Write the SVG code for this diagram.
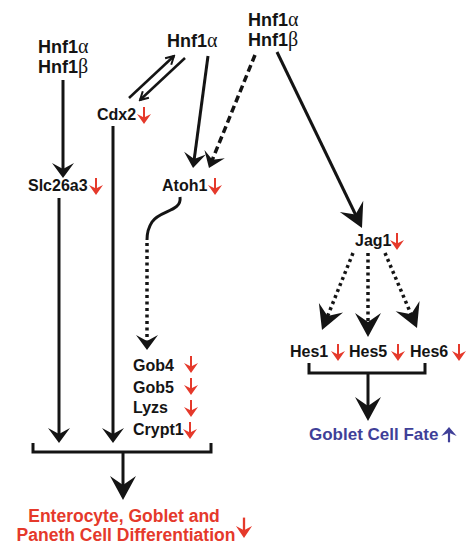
<svg xmlns="http://www.w3.org/2000/svg" xmlns:xlink="http://www.w3.org/1999/xlink" width="466" height="544" viewBox="0 0 466 544">
<style>
.t{font-family:"Liberation Sans",Arial,sans-serif;font-weight:bold;font-size:16px;fill:#141414}
.h{font-size:18px}
.g{font-family:"Liberation Serif","DejaVu Serif",serif;font-weight:normal;font-size:20px}
.red{fill:#e5392b}
.blue{fill:#3f3f98}
.ln{fill:none;stroke:#141414;stroke-width:3}
.dash{stroke-dasharray:7 4;stroke-width:3.5}
.dot{stroke-dasharray:3 3.5;stroke-width:3.5}
.thin{fill:none;stroke:#141414;stroke-width:2.5}
</style>
<defs>
<marker id="am" viewBox="-8 -12 18 24" markerWidth="18" markerHeight="24" markerUnits="userSpaceOnUse" refX="0" refY="0" orient="auto">
<path d="M8,0 L-7,-11 L-1,0 L-7,11 Z" fill="#141414"/>
</marker>
<marker id="ab" viewBox="-15 -14 28 28" markerWidth="28" markerHeight="28" markerUnits="userSpaceOnUse" refX="0" refY="0" orient="auto">
<path d="M11,0 L-13,-13 L-4,0 L-13,13 Z" fill="#141414"/>
</marker>
<marker id="av" viewBox="-9 -6 11 12" markerWidth="11" markerHeight="12" markerUnits="userSpaceOnUse" refX="0" refY="0" orient="auto">
<path d="M-8,-4.5 L0,0 L-8,4.5" fill="none" stroke="#141414" stroke-width="2"/>
</marker>
<g id="rd">
<path d="M0,-17 V-6" stroke="currentColor" stroke-width="2"/>
<path d="M-7,-10 L0,0 L7,-10 L0,-6.5 Z" fill="currentColor"/>
</g>
</defs>

<g id="connectors">
<line class="ln" x1="63" y1="80" x2="63" y2="170" marker-end="url(#am)"/>
<line class="ln" x1="59" y1="198" x2="59" y2="435" marker-end="url(#am)"/>
<line class="ln" x1="113" y1="126" x2="113" y2="435" marker-end="url(#am)"/>
<line class="ln" x1="208" y1="56" x2="194.1" y2="160.1" marker-end="url(#am)"/>
<line class="ln dash" x1="255" y1="55" x2="212" y2="160.6" marker-end="url(#am)"/>
<line class="ln" x1="277" y1="52" x2="357.2" y2="218" marker-end="url(#ab)"/>
<line class="thin" x1="129" y1="98" x2="174" y2="56" marker-end="url(#av)"/>
<line class="thin" x1="185" y1="58" x2="140" y2="100" marker-end="url(#av)"/>
<path class="ln" d="M180,197 C182,212 160,210 152,222 C148,228 147,232 147,240"/>
<line class="ln dot" x1="147" y1="243" x2="147" y2="342" marker-end="url(#am)"/>
<line class="ln dot" x1="353" y1="253" x2="326.1" y2="319.8" marker-end="url(#ab)"/>
<line class="ln dot" x1="368" y1="253" x2="368" y2="326" marker-end="url(#ab)"/>
<line class="ln dot" x1="385" y1="253" x2="412.7" y2="318" marker-end="url(#ab)"/>
<path class="ln" d="M33,443 V452 H211 V443"/>
<line class="ln" x1="123" y1="452" x2="123" y2="489" marker-end="url(#ab)"/>
<path class="ln" d="M309,363 V373 H425 V363"/>
<line class="ln" x1="368" y1="373" x2="368" y2="410" marker-end="url(#ab)"/>
</g>

<g id="hnf1-left">
<text class="t h" x="38" y="53">Hnf1<tspan class="g">α</tspan></text>
<text class="t h" x="38" y="73">Hnf1<tspan class="g">β</tspan></text>
</g>
<g id="hnf1a-mid">
<text class="t h" x="167" y="47">Hnf1<tspan class="g">α</tspan></text>
</g>
<g id="hnf1-right">
<text class="t h" x="248" y="26">Hnf1<tspan class="g">α</tspan></text>
<text class="t h" x="248" y="46">Hnf1<tspan class="g">β</tspan></text>
</g>
<g id="cdx2">
<text class="t" x="97" y="120">Cdx2</text>
<use xlink:href="#rd" x="144" y="124" color="#e5392b"/>
</g>
<g id="slc26a3">
<text class="t" x="28" y="191">Slc26a3</text>
<use xlink:href="#rd" x="96" y="195" color="#e5392b"/>
</g>
<g id="atoh1">
<text class="t" x="162" y="191">Atoh1</text>
<use xlink:href="#rd" x="215" y="195" color="#e5392b"/>
</g>
<g id="jag1">
<text class="t" x="355" y="246">Jag1</text>
<use xlink:href="#rd" x="397" y="250" color="#e5392b"/>
</g>
<g id="hes">
<text class="t" x="290" y="357">Hes1</text>
<use xlink:href="#rd" x="338" y="361" color="#e5392b"/>
<text class="t" x="349" y="357">Hes5</text>
<use xlink:href="#rd" x="398" y="361" color="#e5392b"/>
<text class="t" x="410" y="357">Hes6</text>
<use xlink:href="#rd" x="459" y="361" color="#e5392b"/>
</g>
<g id="gob">
<text class="t" x="133" y="371">Gob4</text>
<use xlink:href="#rd" x="191" y="373" color="#e5392b"/>
<text class="t" x="133" y="393">Gob5</text>
<use xlink:href="#rd" x="191" y="395" color="#e5392b"/>
<text class="t" x="133" y="413">Lyzs</text>
<use xlink:href="#rd" x="191" y="417" color="#e5392b"/>
<text class="t" x="133" y="435">Crypt1</text>
<use xlink:href="#rd" x="190" y="439" color="#e5392b"/>
</g>
<g id="differentiation">
<text class="t red" x="124" y="522" text-anchor="middle" style="font-size:17.5px">Enterocyte, Goblet and</text>
<text class="t red" x="126" y="541" text-anchor="middle" style="font-size:17.5px">Paneth Cell Differentiation</text>
<use xlink:href="#rd" transform="translate(244,538) scale(1.15,1.2)" color="#e5392b"/>
</g>
<g id="goblet-fate">
<text class="t blue" x="309" y="440" style="font-size:17px">Goblet Cell Fate</text>
<use xlink:href="#rd" transform="translate(449,427) scale(1.1,-0.9)" color="#3f3f98"/>
</g>
</svg>
